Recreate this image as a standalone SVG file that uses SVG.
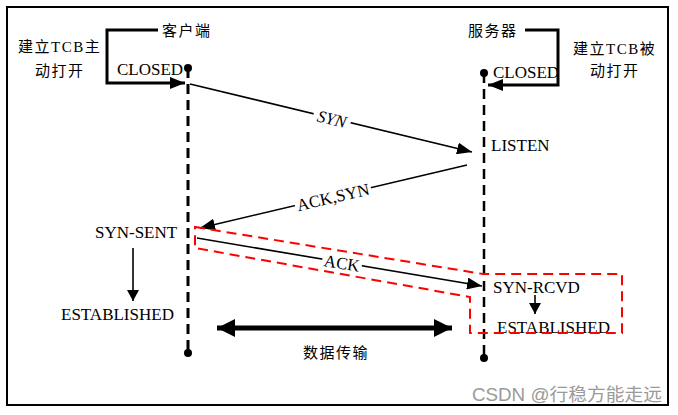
<svg xmlns="http://www.w3.org/2000/svg" width="678" height="415" viewBox="0 0 678 415">
<style>
.t{font-family:"Liberation Serif","Noto Sans CJK SC",serif;font-size:17px;fill:#000}
.cn{font-family:"Liberation Serif","Noto Sans CJK SC",serif;font-size:15px;letter-spacing:1.5px;fill:#000}
.lbl{font-family:"Liberation Serif",serif;font-size:17px;fill:#000}
.bg{fill:#fff}
.ln{stroke:#000;stroke-width:1.6;fill:none}
.life{stroke:#000;stroke-dasharray:10 6;fill:none}
.red{stroke:#ff0000;stroke-width:2;stroke-dasharray:10 6;fill:none}
</style>
<defs>
<marker id="ah" markerUnits="userSpaceOnUse" markerWidth="16" markerHeight="12" refX="15" refY="6" orient="auto">
<path d="M0,0 L15,6 L0,12 z" fill="#000"/>
</marker>
<marker id="ahs" markerUnits="userSpaceOnUse" markerWidth="12" markerHeight="12" refX="11" refY="6" orient="auto">
<path d="M0,0 L11,6 L0,12 z" fill="#000"/>
</marker>
<marker id="ahb" markerUnits="userSpaceOnUse" markerWidth="19" markerHeight="18" refX="18" refY="9" orient="auto-start-reverse">
<path d="M0,0 L18,9 L0,18 z" fill="#000"/>
</marker>
</defs>
<rect x="0" y="0" width="678" height="415" fill="#fff"/>
<rect x="7" y="7" width="661" height="398" fill="none" stroke="#000" stroke-width="2"/>

<g id="client">
<text class="cn" x="162" y="36">客户端</text>
<line class="life" x1="188" y1="68" x2="188" y2="353" stroke-width="3"/>
<circle cx="188" cy="68" r="4" fill="#000"/>
<circle cx="188" cy="353" r="4" fill="#000"/>
</g>
<g id="server">
<text class="cn" x="468" y="36">服务器</text>
<line class="life" x1="484" y1="73" x2="484" y2="358" stroke-width="2.5"/>
<circle cx="484" cy="73" r="4" fill="#000"/>
<circle cx="484" cy="358" r="4" fill="#000"/>
</g>
<g id="client-open">
<text class="cn" x="18" y="52">建立TCB主</text>
<text class="cn" x="35" y="76">动打开</text>
<text class="t" x="117" y="75">CLOSED</text>
</g>
<g id="server-open">
<text class="cn" x="573" y="54">建立TCB被</text>
<text class="cn" x="590" y="76">动打开</text>
<text class="t" x="493" y="78">CLOSED</text>
</g>
<g id="listen"><text class="t" x="491" y="151">LISTEN</text></g>
<g id="syn-sent"><text class="t" x="95" y="238">SYN-SENT</text></g>
<g id="est-left"><text class="t" x="61" y="320">ESTABLISHED</text></g>
<g id="syn-rcvd"><text class="t" x="493" y="293">SYN-RCVD</text></g>
<g id="est-right"><text class="t" x="497" y="333">ESTABLISHED</text></g>
<g id="data"><text class="cn" x="303" y="358">数据传输</text></g>

<g id="connectors">
<polyline points="158,30 107,30 107,83 185,83" stroke="#000" stroke-width="3" fill="none" marker-end="url(#ah)"/>
<polyline points="525,30 558,30 558,85 488,85" stroke="#000" stroke-width="3" fill="none" marker-end="url(#ah)"/>
<line class="ln" x1="190" y1="84" x2="472" y2="152" marker-end="url(#ah)"/>
<line class="ln" x1="467" y1="165" x2="200" y2="228" marker-end="url(#ah)"/>
<line class="ln" x1="197" y1="238" x2="482" y2="286" marker-end="url(#ah)"/>
<line class="ln" x1="133" y1="248" x2="133" y2="301" marker-end="url(#ahs)"/>
<line class="ln" x1="535" y1="295" x2="535" y2="314" marker-end="url(#ahs)"/>
<line x1="217" y1="328" x2="452" y2="328" stroke="#000" stroke-width="5" marker-start="url(#ahb)" marker-end="url(#ahb)"/>
<polygon class="red" points="195,227 483,274 622,274 622,333 470,333 470,297 195,248"/>
<g transform="rotate(13.6 332 119)">
<rect class="bg" x="313" y="112" width="38" height="14"/>
<text class="lbl" x="332" y="119" font-style="italic" text-anchor="middle" dy="0.35em">SYN</text>
</g>
<g transform="rotate(-13 333 197)">
<rect class="bg" x="294" y="190" width="78" height="14"/>
<text class="lbl" x="333" y="197" text-anchor="middle" dy="0.35em">ACK,SYN</text>
</g>
<g transform="rotate(9.5 342 263)">
<rect class="bg" x="322" y="257" width="40" height="12"/>
<text class="lbl" x="342" y="263" text-anchor="middle" dy="0.35em">ACK</text>
</g>
</g>
<text x="472" y="401" font-family="Liberation Sans,Noto Sans CJK SC,sans-serif" font-size="18" fill="#9a9a9a" textLength="190" lengthAdjust="spacingAndGlyphs">CSDN @行稳方能走远</text>
</svg>
